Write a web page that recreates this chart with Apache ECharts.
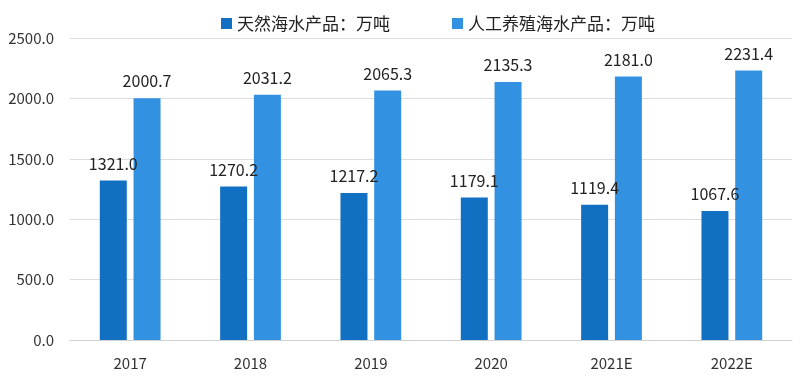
<!DOCTYPE html>
<html><head><meta charset="utf-8">
<script src="https://cdn.jsdelivr.net/npm/echarts@6/dist/echarts.min.js"></script>
<style>html,body{margin:0;padding:0;background:#fff}#c{width:800px;height:389px}</style>
</head><body><div id="c"></div>
<script>
const categories = ['2017','2018','2019','2020','2021E','2022E'];
const seriesNames = ['天然海水产品：万吨','人工养殖海水产品：万吨'];
const natural = [1321.0,1270.2,1217.2,1179.1,1119.4,1067.6];
const farmed = [2000.7,2031.2,2065.3,2135.3,2181.0,2231.4];
const yTicks = [0,500,1000,1500,2000,2500];

const chart = echarts.init(document.getElementById('c'));
const font = '"Microsoft YaHei","Noto Sans CJK SC",sans-serif';
const lbl = {show:true,position:'top',distance:9,color:'#222',fontSize:16,fontFamily:font,formatter:p=>p.value.toFixed(1)};
chart.setOption({
  animation:false,
  textStyle:{fontFamily:font},
  legend:{top:10,left:216,itemWidth:11,itemHeight:11,itemGap:62,icon:'rect',
    textStyle:{fontSize:17,color:'#222',fontFamily:font},data:seriesNames},
  grid:{left:70,right:8,top:38,bottom:49},
  xAxis:{type:'category',data:categories,
    axisLine:{lineStyle:{color:'#d0d0d0'}},axisTick:{show:false},
    axisLabel:{fontSize:15,color:'#333',margin:16}},
  yAxis:{type:'value',min:yTicks[0],max:yTicks[yTicks.length-1],interval:500,
    axisLabel:{fontSize:15,color:'#333',formatter:v=>v.toFixed(1),margin:16},
    splitLine:{lineStyle:{color:'#dcdcdc'}},axisLine:{show:false},axisTick:{show:false}},
  series:[
    {name:seriesNames[0],type:'bar',data:natural,barWidth:27,barGap:'25%',itemStyle:{color:'#1170c2'},label:lbl},
    {name:seriesNames[1],type:'bar',data:farmed,barWidth:27,itemStyle:{color:'#3291e0'},label:lbl}
  ]
});
</script></body></html>
